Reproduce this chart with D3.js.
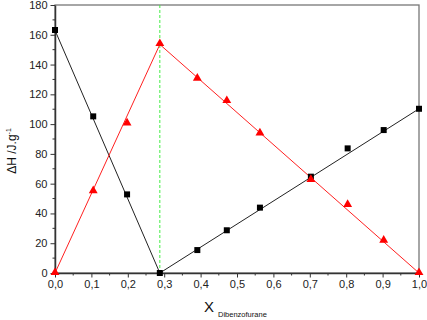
<!DOCTYPE html>
<html>
<head>
  <meta charset="utf-8">
  <title>Dibenzofurane phase diagram</title>
  <script src="https://d3js.org/d3.v7.min.js"></script>
  <style>
    body { margin: 0; background: #fff; }
    svg { font-family: "Liberation Sans", Arial, sans-serif; }
    .tick text { font-size: 11px; fill: #222; }
  </style>
</head>
<body>
  <svg></svg>
  <script>
    const width = 427;
    const height = 320;
    const margin = { top: 5, right: 8, bottom: 47, left: 55 };

    // measured points
    const xBlack = [0, 0.105, 0.198, 0.288, 0.391, 0.472, 0.563, 0.703, 0.804, 0.903, 1.0];
    const yBlack = [163.2, 105.2, 52.8, 0, 15.4, 28.7, 43.9, 64.7, 83.7, 96, 110.3];
    const xRed = [0, 0.105, 0.198, 0.288, 0.391, 0.472, 0.563, 0.703, 0.804, 0.903, 1.0];
    const yRed = [0, 55, 100.5, 153.8, 130.5, 115.5, 93.8, 62.5, 45.7, 21.7, 0];

    // fitted lines (eutectic at x = 0.288)
    const eutecticX = 0.288;
    const blackFit = [[0, 163], [0.288, 0], [1.0, 110.3]];
    const redFit = [[0, 0], [0.288, 153.5], [1.0, 0]];

    const xTicks = [0, 0.1, 0.2, 0.3, 0.4, 0.5, 0.6, 0.7, 0.8, 0.9, 1.0];
    const yTicks = [0, 20, 40, 60, 80, 100, 120, 140, 160, 180];

    const svg = d3.select("svg")
      .attr("width", width)
      .attr("height", height);

    const x = d3.scaleLinear().domain([0, 1]).range([margin.left, width - margin.right]);
    const y = d3.scaleLinear().domain([0, 180]).range([height - margin.bottom, margin.top]);

    const fmt = d => d3.format(".1f")(d).replace(".", ",");

    // frame (top / right)
    svg.append("rect")
      .attr("x", x(0)).attr("y", y(180))
      .attr("width", x(1) - x(0)).attr("height", y(0) - y(180))
      .attr("fill", "none").attr("stroke", "#777").attr("stroke-width", 1.3);

    // minor ticks
    const minorX = d3.range(0.05, 1, 0.1);
    svg.append("g").selectAll("line").data(minorX).enter().append("line")
      .attr("x1", d => x(d)).attr("x2", d => x(d))
      .attr("y1", y(0)).attr("y2", y(0) + 2.5)
      .attr("stroke", "#333");
    const minorY = d3.range(10, 180, 20);
    svg.append("g").selectAll("line").data(minorY).enter().append("line")
      .attr("x1", x(0) - 2.5).attr("x2", x(0))
      .attr("y1", d => y(d)).attr("y2", d => y(d))
      .attr("stroke", "#333");

    const xAxis = svg.append("g")
      .attr("transform", "translate(0," + y(0) + ")")
      .call(d3.axisBottom(x).tickValues(xTicks).tickFormat(fmt).tickSize(4.5).tickSizeOuter(0).tickPadding(3));
    const yAxis = svg.append("g")
      .attr("transform", "translate(" + x(0) + ",0)")
      .call(d3.axisLeft(y).tickValues(yTicks).tickSize(4.5).tickSizeOuter(0).tickPadding(3));
    [xAxis, yAxis].forEach(a => {
      a.select(".domain").attr("stroke", "#333").attr("stroke-width", 1.5);
      a.selectAll(".tick line").attr("stroke", "#333");
    });

    // eutectic line
    svg.append("line")
      .attr("x1", x(eutecticX)).attr("x2", x(eutecticX))
      .attr("y1", y(180)).attr("y2", y(0))
      .attr("stroke", "#44ee44").attr("stroke-width", 1)
      .attr("stroke-dasharray", "3,2");

    const line = d3.line().x(d => x(d[0])).y(d => y(d[1]));

    svg.append("path").datum(blackFit)
      .attr("d", line).attr("fill", "none").attr("stroke", "#222").attr("stroke-width", 1);
    svg.append("path").datum(redFit)
      .attr("d", line).attr("fill", "none").attr("stroke", "#ff2020").attr("stroke-width", 1);

    svg.append("g").selectAll("rect").data(xBlack).enter().append("rect")
      .attr("x", (d, i) => x(d) - 3).attr("y", (d, i) => y(yBlack[i]) - 3)
      .attr("width", 6).attr("height", 6).attr("fill", "#000");

    const tri = d3.symbol().type(d3.symbolTriangle).size(34);
    svg.append("g").selectAll("path").data(xRed).enter().append("path")
      .attr("d", tri)
      .attr("transform", (d, i) => "translate(" + x(d) + "," + (y(yRed[i]) - 0.5) + ")")
      .attr("fill", "#ff0000");

    // axis titles
    const yl = svg.append("text")
      .attr("transform", "translate(16,151) rotate(-90)")
      .attr("text-anchor", "middle")
      .attr("font-size", 12).attr("fill", "#111");
    yl.append("tspan").text("\u0394H /J.g");
    yl.append("tspan").attr("font-size", 7).attr("dy", -5).text("-1");

    const xl = svg.append("text")
      .attr("x", 204).attr("y", 312)
      .attr("font-size", 15).attr("fill", "#111");
    xl.append("tspan").text("X");
    xl.append("tspan").attr("font-size", 7.5).attr("dx", 4).attr("dy", 5).text("Dibenzofurane");
  </script>
</body>
</html>
